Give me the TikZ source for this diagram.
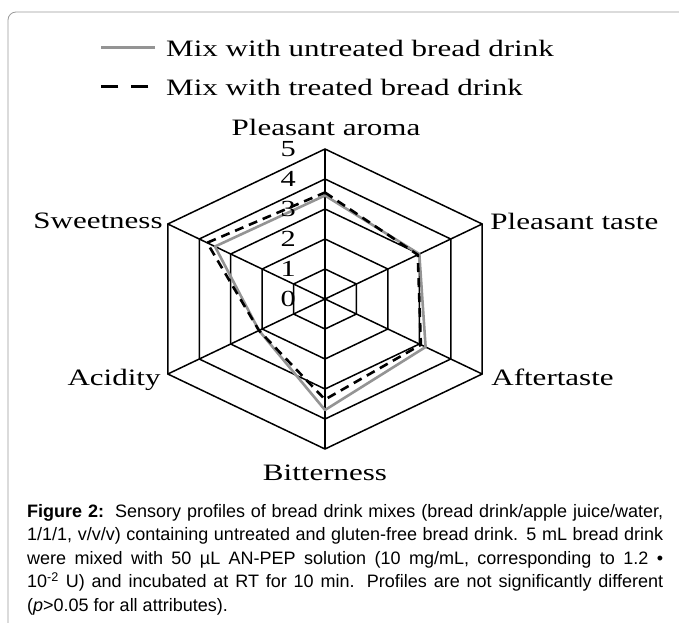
\documentclass[tikz,border=0pt]{standalone}
\usepackage{fontspec}
\setmainfont{Liberation Serif}[FakeStretch=1.32]
\newfontfamily\capfont{Liberation Sans}
\usetikzlibrary{positioning,calc}

\begin{document}
\begin{tikzpicture}[x=1pt, y=1pt,
  grid line/.style = {black, line width=1.5pt, line join=miter},
  untreated/.style = {black!42, line width=2.6pt, line join=round},
  treated/.style = {black, line width=2.6pt, dash pattern=on 9pt off 6pt},
  axis label/.style = {font=\fontsize{23.5}{28}\selectfont, inner sep=0pt},
  tick label/.style = {font=\fontsize{23}{28}\selectfont, inner sep=0pt, anchor=east},
  caption text/.style = {
    font=\capfont\fontsize{18}{23.5}\selectfont,
    text width=636pt, align=justify, inner sep=0pt, anchor=north west,
}]
  \useasboundingbox (0,0) rectangle (679,-622);
  \draw[black!40, line width=0.8pt, rounded corners=8pt]
    (8,-12) rectangle (720,-660);

  % legend
  \node[axis label, anchor=base west] (untreated key) at (166,-56)
    {Mix with untreated bread drink};
  \node[axis label, anchor=base west] (treated key) at (166,-95)
    {Mix with treated bread drink};
  \draw[untreated, line cap=butt]
    ([xshift=-11pt,yshift=8.7pt]untreated key.base west) -- +(-54,0);
  \draw[treated, dash pattern=on 17pt off 13pt]
    ([xshift=-17.7pt,yshift=8.3pt]treated key.base west) -- +(-47.6,0);

  % spider grid
  \begin{scope}[shift={(325,-299)}, xscale=1.21]
    \foreach \r in {1,...,5}
      \draw[grid line] (90:30*\r) \foreach \a in {30,-30,-90,-150,150} { -- (\a:30*\r) } -- cycle;
    \foreach \a/\n in {90/1, 30/2, -30/3, -90/4, -150/5, 150/6} {
      \draw[grid line] (0,0) -- (\a:150);
      \coordinate (a\n) at (\a:150);
    }
    \draw[untreated] (90:3.45*30) -- (30:3.0*30) -- (-30:3.2*30)
      -- (-90:3.7*30) -- (-150:2.1*30) -- (150:3.5*30) -- cycle;
    \draw[treated] (90:3.55*30) -- (30:2.95*30) -- (-30:3.05*30)
      -- (-90:3.35*30) -- (-150:2.1*30) -- (150:3.75*30) -- cycle;
  \end{scope}

  \foreach \v in {0,...,5}
    \node[tick label] (tick\v) at (296,{-299+30*\v}) {\v};

  \node[axis label, anchor=base] (aroma) at ([shift={(1,14)}]a1) {Pleasant aroma};
  \node[axis label, anchor=base west] (taste) at ([shift={(8,-5)}]a2) {Pleasant taste};
  \node[axis label, anchor=base west] (aftertaste) at ([shift={(9,-11)}]a3) {Aftertaste};
  \node[axis label, anchor=base] (bitterness) at ([shift={(0,-31)}]a4) {Bitterness};
  \node[axis label, anchor=base east] (acidity) at ([shift={(-7,-11)}]a5) {Acidity};
  \node[axis label, anchor=base east] (sweetness) at ([shift={(-5,-4)}]a6) {Sweetness};

  \node[caption text] (caption) at (27,-504)
    {{\bfseries Figure 2:}\hspace{0.15em} Sensory profiles of bread drink mixes (bread drink/apple juice/water,\linebreak
     1/1/1, v/v/v) containing untreated and gluten-free bread drink. 5 mL bread drink\linebreak
     were mixed with 50 µL AN-PEP solution (10 mg/mL, corresponding to 1.2 •\linebreak
     10\textsuperscript{-2} U) and incubated at RT for 10 min. Profiles are not significantly different\linebreak
     (\textit{p}>0.05 for all attributes).};
\end{tikzpicture}
\end{document}
